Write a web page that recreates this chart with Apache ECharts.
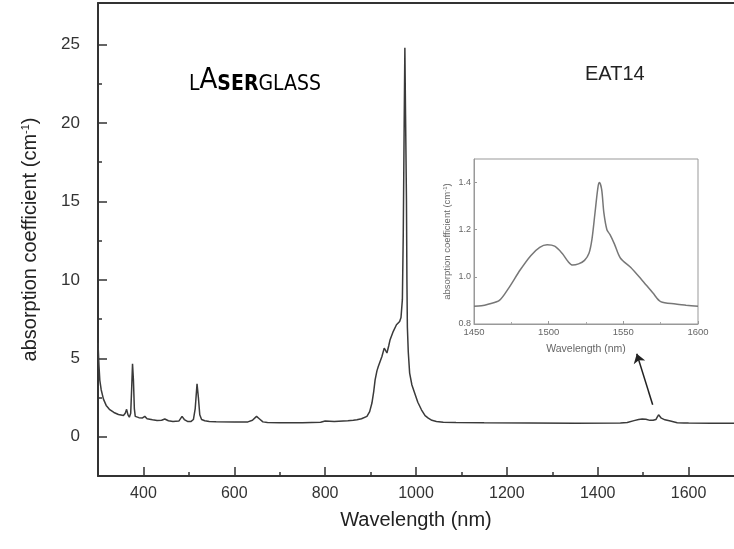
<!DOCTYPE html>
<html>
<head>
<meta charset="utf-8">
<title>EAT14 absorption</title>
<script src="https://cdn.jsdelivr.net/npm/echarts@6/dist/echarts.min.js"></script>
<style>
    html, body { margin: 0; padding: 0; background: #fff; }
    #chart { width: 734px; height: 549px; }
</style>
</head>
<body>
<div id="chart"></div>
<script>
// 主图数据：波长 (nm) 与吸收系数 (cm^-1)
const wavelength = [
    300, 302, 304, 307, 312, 318, 325, 335, 345, 356, 360, 363, 366, 369, 372, 374, 376, 378, 380, 382,
    390, 398, 403, 408, 420, 430, 440, 447, 455, 465, 478, 485, 490, 497, 505, 510, 514, 518, 521, 524,
    528, 535, 545, 560, 600, 630, 640, 649, 655, 663, 673, 700, 750, 790, 800, 820, 850, 862, 870, 880,
    892, 898, 903, 907, 910, 914, 917, 921, 925, 930, 933, 936, 940, 943, 950, 957, 964, 967, 970, 972,
    974, 975.5, 977, 979, 980, 981, 983, 986, 991, 997, 1004, 1012, 1020, 1027, 1035, 1045, 1060, 1088, 1150, 1250,
    1350, 1450, 1465, 1480, 1490, 1498, 1506, 1515, 1522, 1528, 1531, 1534, 1537, 1540, 1548, 1560, 1575, 1590, 1600, 1650,
    1700
]
const absorption = [
    6.0, 4.6, 3.6, 3.0, 2.4, 2.0, 1.75, 1.55, 1.42, 1.36, 1.5, 1.75, 1.4, 1.25, 1.5, 3.0, 4.65, 3.6, 1.8, 1.3,
    1.22, 1.2, 1.3, 1.15, 1.08, 1.04, 1.05, 1.13, 1.02, 0.98, 1.0, 1.3, 1.1, 0.98, 0.98, 1.1, 1.8, 3.38, 2.5, 1.4,
    1.1, 1.02, 0.98, 0.96, 0.95, 0.95, 1.05, 1.3, 1.15, 0.95, 0.91, 0.9, 0.9, 0.92, 1.0, 0.98, 1.02, 1.05, 1.08, 1.15,
    1.3, 1.6, 2.15, 2.9, 3.63, 4.2, 4.48, 4.8, 5.12, 5.65, 5.5, 5.34, 5.8, 6.19, 6.72, 7.14, 7.35, 7.6, 8.74, 13.0,
    20.0, 24.8, 20.5, 15.1, 10.0, 7.0, 5.4, 4.06, 3.3, 2.79, 2.2, 1.72, 1.35, 1.19, 1.05, 0.98, 0.93, 0.91, 0.89, 0.88,
    0.87, 0.875, 0.91, 1.03, 1.1, 1.136, 1.12, 1.047, 1.06, 1.1, 1.25, 1.4, 1.28, 1.186, 1.08, 1.0, 0.895, 0.88, 0.875, 0.87,
    0.87
]

// 插图数据 (1450-1600 nm 放大)
const insetWavelength = [
    1450, 1455, 1460, 1467, 1473, 1481, 1488, 1494, 1499, 1504, 1509, 1513, 1516, 1520, 1524, 1527, 1529,
    1531, 1533, 1534, 1535.5, 1537, 1539, 1541, 1544, 1548, 1555, 1562, 1570, 1575, 1585, 1592, 1600
]
const insetAbsorption = [
    0.875, 0.877, 0.885, 0.9, 0.95, 1.03, 1.09, 1.125, 1.136, 1.13, 1.1, 1.065, 1.05, 1.055, 1.07, 1.1, 1.16,
    1.27, 1.38, 1.4, 1.37, 1.27, 1.2, 1.18, 1.14, 1.08, 1.04, 0.99, 0.93, 0.895, 0.885, 0.88, 0.875
]

// 刻度
const xMajorTicks = [400, 600, 800, 1000, 1200, 1400, 1600]
const xMinorTicks = [500, 700, 900, 1100, 1300, 1500]
const yMajorTicks = [0, 5, 10, 15, 20, 25]
const yMinorTicks = [2.5, 7.5, 12.5, 17.5, 22.5]
const insetYTicks = [0.8, 1.0, 1.2, 1.4]

// 箭头（指向插图）
const arrowFrom = [1521, 2.04]
const arrowTo = [1486, 5.29]

const font = 'Liberation Sans, Arial, sans-serif'
const axisColor = '#333'
const logoFont = 'DejaVu Sans Condensed'

const zip = (xs, ys) => xs.map((x, i) => [x, ys[i]])
const plain = v => String(v) // 不要千位分隔符

const chart = echarts.init(document.getElementById('chart'))

chart.setOption({
    animation: false,
    grid: [
        { left: 98, top: 3, right: -6, bottom: 73 }, // 主图
        { left: 474, top: 159, width: 224, height: 165, show: true, borderColor: '#999', borderWidth: 1 } // 插图
    ],
    graphic: [
        {// LASERGLASS 标志
            type: 'text',
            left: 189,
            top: 66,
            style: {
                text: '{l|L}{a|A}{s|SER}{g|GLASS}',
                rich: {
                    l: { fontFamily: logoFont, fontSize: 21, color: '#4a4792', verticalAlign: 'bottom' },
                    a: { fontFamily: logoFont, fontSize: 29, color: '#3a3785', verticalAlign: 'bottom' },
                    s: { fontFamily: logoFont, fontSize: 21, fontWeight: 'bold', color: '#3a3785', verticalAlign: 'bottom' },
                    g: { fontFamily: logoFont, fontSize: 21, color: '#5a57a0', verticalAlign: 'bottom' }
                }
            }
        },
        {
            type: 'text',
            left: 585,
            top: 64,
            style: { text: 'EAT14', fontFamily: font, fontSize: 20, fill: '#222' }
        }
    ],
    xAxis: [
        {// 主图横坐标
            type: 'value',
            gridIndex: 0,
            min: 300,
            max: 1700,
            position: 'bottom',
            name: 'Wavelength (nm)',
            nameLocation: 'middle',
            nameGap: 34,
            nameTextStyle: { fontFamily: font, fontSize: 20, color: '#222' },
            axisLine: { onZero: false, lineStyle: { color: axisColor, width: 2 } },
            axisTick: { inside: true, length: 9, customValues: xMajorTicks, lineStyle: { color: axisColor, width: 1.5 } },
            axisLabel: { customValues: xMajorTicks, formatter: plain, margin: 10, fontFamily: font, fontSize: 16, color: '#333' },
            splitLine: { show: false }
        },
        {// 主图次刻度
            type: 'value',
            gridIndex: 0,
            min: 300,
            max: 1700,
            position: 'bottom',
            axisLine: { show: false, onZero: false },
            axisTick: { inside: true, length: 4, customValues: xMinorTicks, lineStyle: { color: axisColor, width: 1.5 } },
            axisLabel: { show: false },
            splitLine: { show: false }
        },
        {// 顶部边框
            type: 'value',
            gridIndex: 0,
            min: 300,
            max: 1700,
            position: 'top',
            axisLine: { onZero: false, lineStyle: { color: axisColor, width: 2 } },
            axisTick: { show: false },
            axisLabel: { show: false },
            splitLine: { show: false }
        },
        {// 插图横坐标
            type: 'value',
            gridIndex: 1,
            min: 1450,
            max: 1600,
            interval: 50,
            position: 'bottom',
            name: 'Wavelength (nm)',
            nameLocation: 'middle',
            nameGap: 20,
            nameTextStyle: { fontFamily: font, fontSize: 10.5, color: '#666' },
            axisLine: { onZero: false, lineStyle: { color: '#999', width: 1 } },
            axisTick: { inside: true, length: 3, lineStyle: { color: '#999' } },
            minorTick: { show: true, splitNumber: 2, length: 2, lineStyle: { color: '#aaa' } },
            axisLabel: { formatter: plain, margin: 3, fontFamily: font, fontSize: 9.5, color: '#666' },
            splitLine: { show: false }
        }
    ],
    yAxis: [
        {// 主图纵坐标
            type: 'value',
            gridIndex: 0,
            min: -2.5,
            max: 27.65,
            position: 'left',
            name: 'absorption coefficient (cm{sup|-1})',
            nameLocation: 'middle',
            nameGap: 58,
            nameTextStyle: {
                fontFamily: font, fontSize: 20, color: '#222',
                rich: { sup: { fontFamily: font, fontSize: 11, color: '#222', verticalAlign: 'top', padding: [0, 0, 8, 0] } }
            },
            axisLine: { onZero: false, lineStyle: { color: axisColor, width: 2 } },
            axisTick: { inside: true, length: 9, customValues: yMajorTicks, lineStyle: { color: axisColor, width: 1.5 } },
            axisLabel: { customValues: yMajorTicks, margin: 18, fontFamily: font, fontSize: 17, color: '#333' },
            splitLine: { show: false }
        },
        {// 主图次刻度
            type: 'value',
            gridIndex: 0,
            min: -2.5,
            max: 27.65,
            position: 'left',
            axisLine: { show: false, onZero: false },
            axisTick: { inside: true, length: 4, customValues: yMinorTicks, lineStyle: { color: axisColor, width: 1.5 } },
            axisLabel: { show: false },
            splitLine: { show: false }
        },
        {// 插图纵坐标
            type: 'value',
            gridIndex: 1,
            min: 0.8,
            max: 1.5,
            position: 'left',
            name: 'absorption coefficient (cm{sup|-1})',
            nameLocation: 'middle',
            nameGap: 22,
            nameTextStyle: {
                fontFamily: font, fontSize: 9.5, color: '#666',
                rich: { sup: { fontFamily: font, fontSize: 6, color: '#666', verticalAlign: 'top' } }
            },
            axisLine: { onZero: false, lineStyle: { color: '#999', width: 1 } },
            axisTick: { inside: true, length: 3, customValues: insetYTicks, lineStyle: { color: '#999' } },
            axisLabel: { customValues: insetYTicks, margin: 3, fontFamily: font, fontSize: 9, color: '#666', formatter: v => v.toFixed(1) },
            splitLine: { show: false }
        }
    ],
    series: [
        {// 主曲线
            type: 'line',
            xAxisIndex: 0,
            yAxisIndex: 0,
            data: zip(wavelength, absorption),
            showSymbol: false,
            lineStyle: { color: '#3a3a3a', width: 1.5 },
            markLine: {// 指向插图的箭头
                silent: true,
                symbol: ['none', 'arrow'],
                symbolSize: 9,
                label: { show: false },
                lineStyle: { color: '#222', width: 1.5, type: 'solid' },
                data: [[{ coord: arrowFrom }, { coord: arrowTo }]]
            }
        },
        {// 插图曲线
            type: 'line',
            xAxisIndex: 3,
            yAxisIndex: 2,
            data: zip(insetWavelength, insetAbsorption),
            showSymbol: false,
            smooth: 0.3,
            lineStyle: { color: '#777', width: 1.5 }
        }
    ]
})
</script>
</body>
</html>
